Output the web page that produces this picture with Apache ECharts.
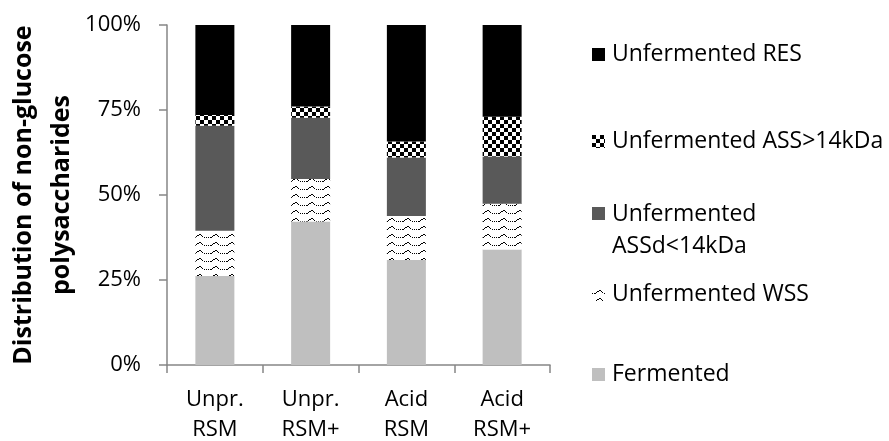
<!DOCTYPE html>
<html><head><meta charset="utf-8">
<script src="https://cdn.jsdelivr.net/npm/echarts@6/dist/echarts.min.js"></script>
<style>html,body{margin:0;padding:0;background:#fff}#c{width:889px;height:441px}</style>
</head><body><div id="c"></div>
<script>
const categories = ['Unpr.\nRSM', 'Unpr.\nRSM+', 'Acid\nRSM', 'Acid\nRSM+'];
const fermented = [26.2, 42.2, 30.9, 34.0];
const unfWSS = [13.3, 12.5, 12.9, 13.4];
const unfASSd = [30.9, 18.0, 17.2, 13.9];
const unfASS14 = [3.1, 3.3, 4.7, 11.7];
const unfRES = [26.5, 24.0, 34.3, 27.0];
const yTicks = [0, 25, 50, 75, 100];

function checker() {
  const c = document.createElement('canvas'); c.width = 8; c.height = 8;
  const g = c.getContext('2d');
  g.fillStyle = '#fff'; g.fillRect(0, 0, 8, 8);
  g.fillStyle = '#000'; g.fillRect(0, 0, 4, 4); g.fillRect(4, 4, 4, 4);
  return c;
}
function wave() {
  const c = document.createElement('canvas'); c.width = 16; c.height = 8;
  const g = c.getContext('2d');
  g.fillStyle = '#fff'; g.fillRect(0, 0, 16, 8);
  g.fillStyle = '#000';
  const ys = [5, null, 5, 5, 4, 3, 3, 2, 2, 3, 4, null, 5, null, 5, null];
  ys.forEach((y, x) => { if (y !== null) g.fillRect(x, y, 1, 1); });
  return c;
}
const checkerFill = { image: checker(), repeat: 'repeat' };
const waveFill = { image: wave(), repeat: 'repeat' };

const FONT = 'Open Sans';
const names = ['Fermented', 'Unfermented WSS', 'Unfermented ASSd<14kDa', 'Unfermented ASS>14kDa', 'Unfermented RES'];
const datas = [fermented, unfWSS, unfASSd, unfASS14, unfRES];
const fills = ['#BFBFBF', waveFill, '#595959', checkerFill, '#000000'];

const series = names.map((n, i) => ({
  name: n, type: 'bar', stack: 's', barWidth: 39,
  data: datas[i],
  itemStyle: { color: fills[i] },
  emphasis: { disabled: true }
}));

function leg(name, top, extra) {
  return Object.assign({
    data: [name], left: 592, top: top, padding: 0, icon: 'rect',
    itemWidth: 13, itemHeight: 13, itemGap: 7, selectedMode: false,
    textStyle: { fontFamily: FONT, fontSize: 23, color: '#000', padding: [0, 0, 0, 2] }
  }, extra || {});
}

const chart = echarts.init(document.getElementById('c'), null, { renderer: 'canvas' });
chart.setOption({
  animation: false,
  grid: { left: 167, right: 339, top: 25, bottom: 76, containLabel: false, outerBoundsMode: 'none' },
  xAxis: {
    type: 'category', data: categories,
    axisLine: { lineStyle: { color: '#868686', width: 1.5 } },
    axisTick: { show: true, length: 8, lineStyle: { color: '#868686', width: 1.5 } },
    axisLabel: { fontFamily: FONT, fontSize: 22, color: '#000', lineHeight: 30, margin: 20 }
  },
  yAxis: {
    type: 'value', min: yTicks[0], max: yTicks[yTicks.length - 1], interval: 25,
    name: 'Distribution of non-glucose\npolysaccharides',
    nameLocation: 'middle', nameGap: 86, nameRotate: 90,
    nameTextStyle: { fontFamily: FONT, fontSize: 25, fontWeight: 'bold', color: '#000', lineHeight: 38 },
    axisLine: { show: true, lineStyle: { color: '#868686', width: 1.5 } },
    axisTick: { show: true, length: 8, lineStyle: { color: '#868686', width: 1.5 } },
    splitLine: { show: false },
    axisLabel: { fontFamily: FONT, fontSize: 22, color: '#000', margin: 26, formatter: '{value}%' }
  },
  legend: [
    leg('Unfermented RES', 43),
    leg('Unfermented ASS>14kDa', 130),
    leg('Unfermented ASSd<14kDa', 198, {
      formatter: () => 'Unfermented\nASSd<14kDa',
      itemHeight: 46,
      icon: 'path://M0,0L13,0L13,13L0,13Z M0,45.9L0.05,45.9L0.05,46L0,46Z',
      textStyle: { fontFamily: FONT, fontSize: 23, color: '#000', lineHeight: 32, padding: [0, 0, 0, 2] }
    }),
    leg('Unfermented WSS', 283),
    leg('Fermented', 363)
  ],
  series: series
});
</script></body></html>
